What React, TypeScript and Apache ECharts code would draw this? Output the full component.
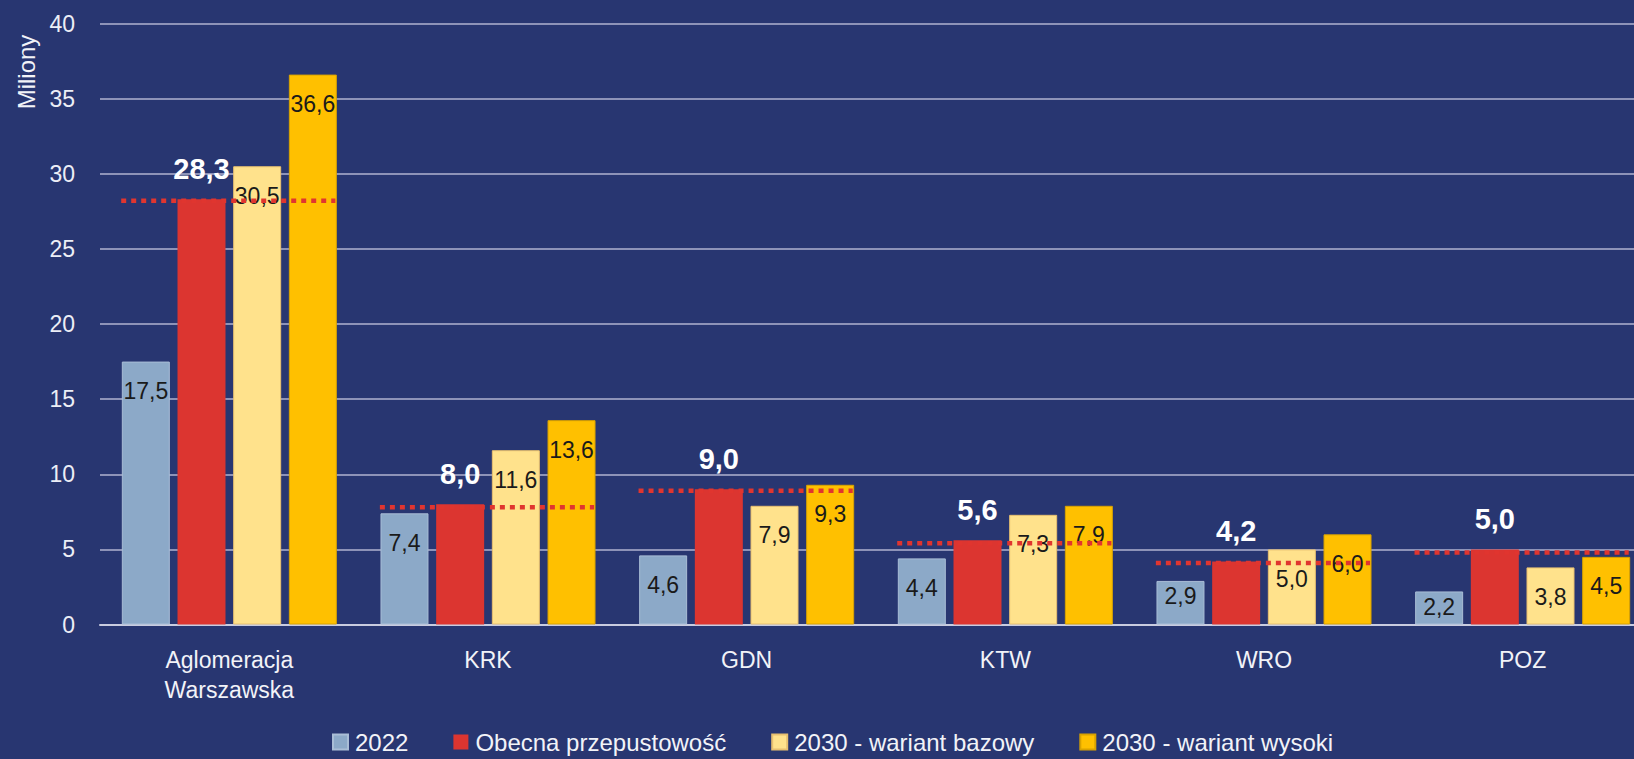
import React, { useEffect, useRef } from "react";
import * as echarts from "echarts";

const categories = ["Aglomeracja\nWarszawska", "KRK", "GDN", "KTW", "WRO", "POZ"];
const seriesNames = ["2022", "Obecna przepustowość", "2030 - wariant bazowy", "2030 - wariant wysoki"];
const values2022 = [17.5, 7.4, 4.6, 4.4, 2.9, 2.2];
const capacity = [28.3, 8.0, 9.0, 5.6, 4.2, 5.0];
const base2030 = [30.5, 11.6, 7.9, 7.3, 5.0, 3.8];
const high2030 = [36.6, 13.6, 9.3, 7.9, 6.0, 4.5];
const capacityLine = [28.2, 7.8, 8.9, 5.4, 4.1, 4.8];
const yMin = 0;
const yMax = 40;
const yStep = 5;
const axisTitle = "Miliony";

const BG = "#283671";
const FONT = "'Liberation Sans', Arial, sans-serif";
const fmt = (v: number) => v.toFixed(1).replace(".", ",");

export default function App() {
  const ref = useRef<HTMLDivElement>(null);
  useEffect(() => {
    if (!ref.current) return;
    const chart = echarts.init(ref.current, null, { renderer: "svg" });

    const insideLabel = (v: number) => ({
      value: v,
      label: { distance: v < 3.5 ? 4 : 18 },
    });

    const barBase = {
      type: "bar",
      barWidth: 48,
      barGap: "16%",
    };
    const innerLabel = {
      show: true,
      position: "insideTop",
      color: "#1a1a1a",
      fontSize: 23,
      fontFamily: FONT,
      formatter: (p: any) => fmt(p.value),
    };

    chart.setOption({
      animation: false,
      backgroundColor: BG,
      textStyle: { fontFamily: FONT },
      grid: {
        left: 100,
        right: -18,
        top: 23.5,
        bottom: 134.5,
        containLabel: false,
        outerBoundsMode: "none",
      },
      legend: {
        data: seriesNames,
        left: 332,
        top: 729,
        padding: 0,
        itemWidth: 15,
        itemHeight: 15,
        itemGap: 45,
        icon: "rect",
        textStyle: {
          color: "#f2f3f8",
          fontSize: 24,
          lineHeight: 26,
          fontFamily: FONT,
          padding: [0, 0, 0, 2],
        },
      },
      xAxis: {
        type: "category",
        data: categories,
        axisTick: { show: false },
        axisLine: { show: true, lineStyle: { color: "#c9cce0", width: 2 } },
        axisLabel: {
          interval: 0,
          color: "#f2f3f8",
          fontSize: 23,
          lineHeight: 30,
          margin: 20,
          fontFamily: FONT,
        },
      },
      yAxis: {
        type: "value",
        min: yMin,
        max: yMax,
        interval: yStep,
        axisLine: { show: false },
        axisTick: { show: false },
        axisLabel: { color: "#eceef6", fontSize: 23, margin: 25, fontFamily: FONT },
        splitLine: { lineStyle: { color: "#8e93b8", width: 2 } },
      },
      graphic: [
        {
          type: "text",
          x: 26,
          y: 72,
          rotation: Math.PI / 2,
          style: {
            text: axisTitle,
            fill: "#f2f3f8",
            fontSize: 24,
            fontFamily: FONT,
            align: "center",
            verticalAlign: "middle",
          },
        },
      ],
      series: [
        {
          ...barBase,
          name: seriesNames[0],
          data: values2022.map(insideLabel),
          itemStyle: { color: "#8ca9c8", borderColor: "#a9bdd6", borderWidth: 1 },
          label: innerLabel,
        },
        {
          ...barBase,
          name: seriesNames[1],
          data: capacity,
          itemStyle: { color: "#dc3530" },
          label: {
            show: true,
            position: "top",
            distance: 16,
            color: "#ffffff",
            fontSize: 29,
            fontWeight: "bold",
            fontFamily: FONT,
            formatter: (p: any) => fmt(p.value),
          },
          z: 2,
        },
        {
          ...barBase,
          name: seriesNames[2],
          data: base2030.map(insideLabel),
          itemStyle: { color: "#ffe28c", borderColor: "#e8c070", borderWidth: 1 },
          label: innerLabel,
        },
        {
          ...barBase,
          name: seriesNames[3],
          data: high2030.map(insideLabel),
          itemStyle: { color: "#ffc000", borderColor: "#d9a200", borderWidth: 1 },
          label: innerLabel,
        },
        {
          type: "custom",
          name: "capacityLine",
          data: capacityLine.map((v, i) => [i, v]),
          encode: { x: 0, y: 1 },
          z: 5,
          silent: true,
          renderItem: (params: any, api: any) => {
            const pt = api.coord([api.value(0), api.value(1)]);
            const band = api.size([1, 0])[0];
            return {
              type: "line",
              shape: {
                x1: pt[0] - band * 0.418,
                y1: pt[1],
                x2: pt[0] + band * 0.41,
                y2: pt[1],
              },
              style: { stroke: "#e0352f", lineWidth: 4.5, lineDash: [5, 5] },
            };
          },
        },
      ],
    });
    return () => chart.dispose();
  }, []);
  return (
    <div
      ref={ref}
      style={{ position: "fixed", left: 0, top: 0, width: 1634, height: 759, background: BG }}
    />
  );
}
